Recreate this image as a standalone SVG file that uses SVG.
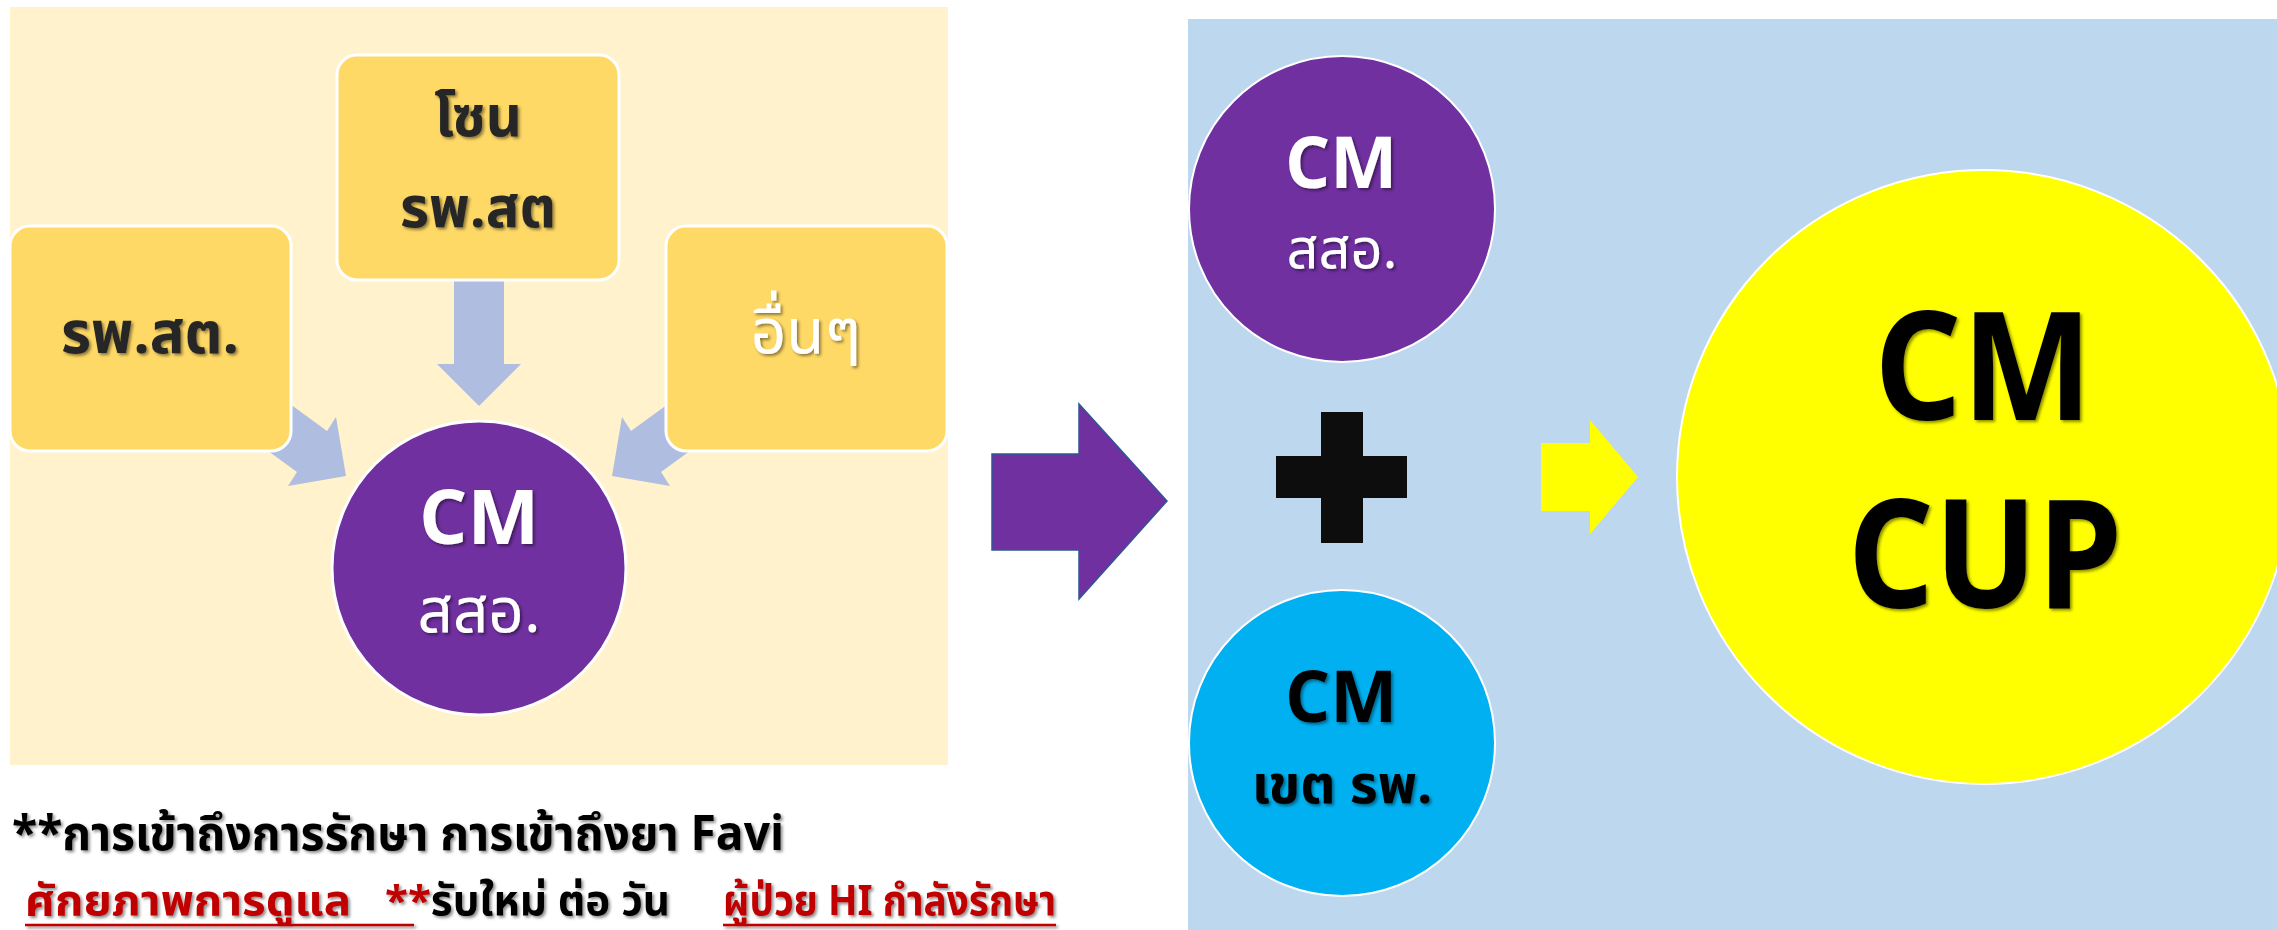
<svg xmlns="http://www.w3.org/2000/svg" width="2277" height="930" viewBox="0 0 2277 930">
<defs>
<filter id="sh" x="-10%" y="-10%" width="130%" height="140%">
<feDropShadow dx="2" dy="2" stdDeviation="1.5" flood-color="#000" flood-opacity="0.45"/>
</filter>
<style>
.box{fill:#FFD966;stroke:#FFFFFF;stroke-width:3}
.blk{fill:#AFBEE0}
.th{font-family:"Noto Sans Thai","Noto Sans","DejaVu Sans",sans-serif;font-weight:bold;text-anchor:middle}
.reg{font-weight:normal}
.lat{font-family:"Open Sans","Liberation Sans",sans-serif;font-weight:bold;text-anchor:middle}
.cond{font-family:"Noto Sans Thai","Liberation Sans Narrow","Liberation Sans",sans-serif;font-weight:bold}
.red{fill:#C00000}
.dark{fill:#262626}
</style>
</defs>
<rect width="2277" height="930" fill="#FFFFFF"/>
<rect id="left-panel" x="10" y="7" width="938" height="758" fill="#FFF2CC"/>
<rect id="right-panel" x="1188" y="19" width="1089" height="911" fill="#BDD7EE"/>

<g id="connectors">
<polygon class="blk" points="454,270 504,270 504,364 521,364 479,406 437,364 454,364"/>
<polygon class="blk" points="246,372 327,431 336,417 346,476 288,486 297,472 216,413"/>
<polygon class="blk" points="712,372 631,431 622,417 612,476 670,486 661,472 742,413"/>
<polygon points="992,454 1079,454 1079,404 1167,501 1079,599 1079,550 992,550" fill="#7030A0" stroke="#2F5597" stroke-width="1.5"/>
<polygon points="1541,443 1590,443 1590,420 1638,477 1590,534 1590,511 1541,511" fill="#FFFF00"/>
</g>

<g id="box-rpst">
<rect class="box" x="10" y="226" width="281" height="225" rx="20"/>
<text class="th dark" x="150" y="353" font-size="58" filter="url(#sh)">รพ.สต.</text>
</g>
<g id="box-zone">
<rect class="box" x="337" y="55" width="282" height="225" rx="20"/>
<text class="th dark" x="478" y="136" font-size="56" filter="url(#sh)">โซน</text>
<text class="th dark" x="478" y="227" font-size="56" filter="url(#sh)">รพ.สต</text>
</g>
<g id="box-other">
<rect class="box" x="666" y="226" width="281" height="225" rx="20"/>
<text class="th reg" x="806" y="353" font-size="62" fill="#FFFFFF" filter="url(#sh)">อื่นๆ</text>
</g>

<g id="cm-sso-left">
<circle cx="479" cy="568" r="147" fill="#7030A0" stroke="#FFFFFF" stroke-width="3"/>
<text class="lat" x="479" y="544" font-size="76" fill="#FFFFFF" filter="url(#sh)">CM</text>
<text class="th reg" x="479" y="632" font-size="62" fill="#FFFFFF" filter="url(#sh)">สสอ.</text>
</g>

<g id="cm-sso-right">
<circle cx="1342" cy="209" r="153" fill="#7030A0" stroke="#FFFFFF" stroke-width="2"/>
<text class="lat" x="1341" y="188" font-size="71" fill="#FFFFFF" filter="url(#sh)">CM</text>
<text class="th reg" x="1342" y="268" font-size="56" fill="#FFFFFF" filter="url(#sh)">สสอ.</text>
</g>

<g id="plus">
<rect x="1321" y="412" width="42" height="131" fill="#0D0D0D"/>
<rect x="1276" y="456" width="131" height="42" fill="#0D0D0D"/>
</g>

<g id="cm-khet">
<circle cx="1342" cy="743" r="153" fill="#00B0F0" stroke="#FFFFFF" stroke-width="2"/>
<text class="lat" x="1341" y="722" font-size="71" fill="#000000" filter="url(#sh)">CM</text>
<text class="th" x="1342" y="803" font-size="54" fill="#000000" filter="url(#sh)">เขต รพ.</text>
</g>

<g id="cm-cup">
<circle cx="1984" cy="477" r="307" fill="#FFFF00" stroke="#FFFFFF" stroke-width="2"/>
<text class="lat" x="1983" y="420" font-size="150" fill="#000000" textLength="218" lengthAdjust="spacingAndGlyphs" filter="url(#sh)">CM</text>
<text class="lat" x="1985" y="608" font-size="150" fill="#000000" textLength="275" lengthAdjust="spacingAndGlyphs" filter="url(#sh)">CUP</text>
</g>

<g id="notes" filter="url(#sh)">
<text class="cond" x="12" y="850" font-size="48" fill="#000000" textLength="772" lengthAdjust="spacingAndGlyphs">**การเข้าถึงการรักษา การเข้าถึงยา Favi</text>
<text class="cond red" x="25" y="915" font-size="42" textLength="326" lengthAdjust="spacingAndGlyphs">ศักยภาพการดูแล</text>
<text class="cond" x="385" y="915" font-size="42" fill="#000000" textLength="285" lengthAdjust="spacingAndGlyphs"><tspan fill="#C00000">**</tspan>รับใหม่ ต่อ วัน</text>
<text class="cond red" x="723" y="915" font-size="42" textLength="333" lengthAdjust="spacingAndGlyphs">ผู้ป่วย HI กำลังรักษา</text>
<line x1="25" y1="925" x2="414" y2="925" stroke="#C00000" stroke-width="2.5"/>
<line x1="723" y1="925" x2="1056" y2="925" stroke="#C00000" stroke-width="2.5"/>
</g>
</svg>
